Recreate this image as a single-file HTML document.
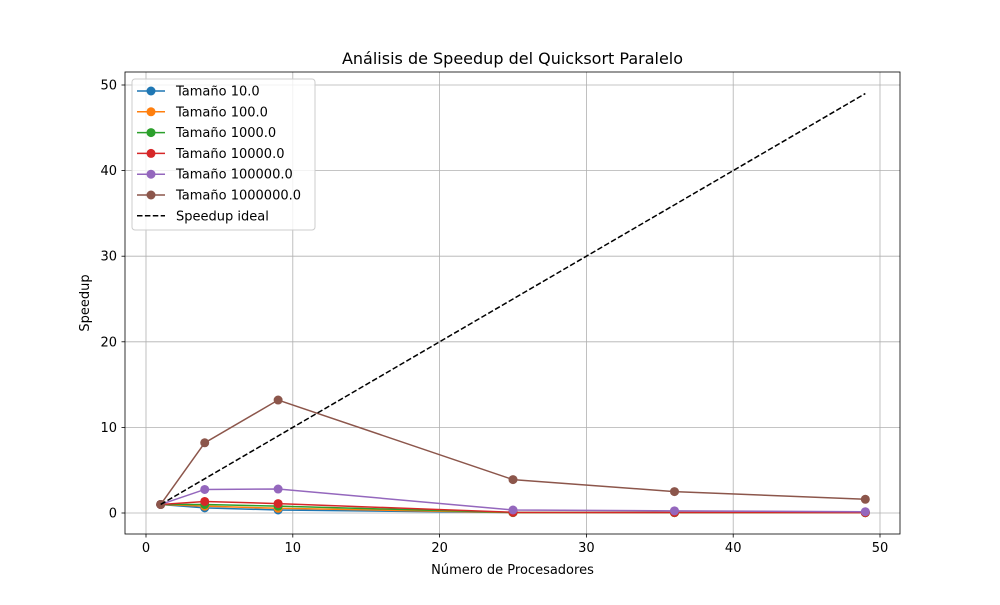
<!DOCTYPE html>
<html><head><meta charset="utf-8"><style>
body{margin:0;background:#fff}
svg text{font-family:"DejaVu Sans","Liberation Sans",sans-serif;fill:#000}
</style></head><body>
<svg id="chart" width="1000" height="600" xmlns="http://www.w3.org/2000/svg">
<rect width="1000" height="600" fill="#fff"/>
<g id="grid"></g>
<g id="ticks"></g>
<g id="series"></g>
<rect x="125" y="72" width="775" height="462" fill="none" stroke="#000" stroke-width="0.8"/>
<text x="512.5" y="64" font-size="16" text-anchor="middle">Análisis de Speedup del Quicksort Paralelo</text>
<text x="512.5" y="574" font-size="13" text-anchor="middle">Número de Procesadores</text>
<text transform="translate(89,303) rotate(-90)" font-size="13" text-anchor="middle">Speedup</text>
<g id="legend"></g>
</svg>
<script>
const procs=[1,4,9,25,36,49];
const labels=["Tamaño 10.0","Tamaño 100.0","Tamaño 1000.0","Tamaño 10000.0","Tamaño 100000.0","Tamaño 1000000.0"];
const s10=[1,0.6,0.35,0.05,0.04,0.03];
const s100=[1,0.8,0.55,0.05,0.04,0.03];
const s1000=[1,1.0,0.8,0.06,0.05,0.04];
const s10000=[1,1.35,1.1,0.08,0.06,0.05];
const s100000=[1,2.75,2.8,0.35,0.25,0.15];
const s1000000=[1,8.2,13.2,3.9,2.5,1.6];
const ideal=[1,49];
const xTicks=[0,10,20,30,40,50];
const yTicks=[0,10,20,30,40,50];
const colors=["#1f77b4","#ff7f0e","#2ca02c","#d62728","#9467bd","#8c564b"];
const X=v=>146+v*14.68, Y=v=>513-v*8.56;
const NS="http://www.w3.org/2000/svg";
function mk(t,a,p){const e=document.createElementNS(NS,t);for(const k in a)e.setAttribute(k,a[k]);p.appendChild(e);return e;}
const grid=document.getElementById('grid'),ticks=document.getElementById('ticks'),ser=document.getElementById('series'),leg=document.getElementById('legend');
xTicks.forEach(v=>{const x=X(v);
 const g=mk('line',{x1:x,x2:x,y1:72,y2:534,stroke:'#b0b0b0','stroke-width':0.8},grid);
 
 mk('line',{x1:x,x2:x,y1:534,y2:537.5,stroke:'#000','stroke-width':0.8},ticks);
 const t=mk('text',{x:x,y:552,'font-size':13,'text-anchor':'middle'},ticks);t.textContent=v;
 });
yTicks.forEach(v=>{const y=Y(v);
 const g=mk('line',{x1:125,x2:900,y1:y,y2:y,stroke:'#b0b0b0','stroke-width':0.8},grid);
 
 mk('line',{x1:121.5,x2:125,y1:y,y2:y,stroke:'#000','stroke-width':0.8},ticks);
 const t=mk('text',{x:117,y:y+4.5,'font-size':13,'text-anchor':'end'},ticks);t.textContent=v;
 });
const all=[s10,s100,s1000,s10000,s100000,s1000000];
all.forEach((d,i)=>{const g=mk('g',{},ser);
 
 
 mk('polyline',{points:d.map((v,j)=>X(procs[j])+','+Y(v)).join(' '),fill:'none',stroke:colors[i],'stroke-width':1.5},g);
 d.forEach((v,j)=>{const c=mk('circle',{cx:X(procs[j]),cy:Y(v),r:4.5,fill:colors[i]},g);
  });});
const il=mk('line',{x1:X(ideal[0]),y1:Y(ideal[0]),x2:X(ideal[1]),y2:Y(ideal[1]),stroke:'#000','stroke-width':1.5,'stroke-dasharray':'5.5,2.4'},ser);

const box=mk('rect',{x:132,y:79,width:183,height:151,rx:3,fill:'#fff','fill-opacity':0.8,stroke:'#ccc'},leg);

labels.concat(["Speedup ideal"]).forEach((l,i)=>{const y=91+i*20.8;const g=mk('g',{},leg);
 
 if(i<6){mk('line',{x1:137,x2:165,y1:y,y2:y,stroke:colors[i],'stroke-width':1.5},g);mk('circle',{cx:151,cy:y,r:4.5,fill:colors[i]},g);}
 else mk('line',{x1:137,x2:165,y1:y,y2:y,stroke:'#000','stroke-width':1.5,'stroke-dasharray':'5.5,2.4'},g);
 const t=mk('text',{x:176,y:y+4.5,'font-size':13},g);t.textContent=l;});
</script>
</body></html>
